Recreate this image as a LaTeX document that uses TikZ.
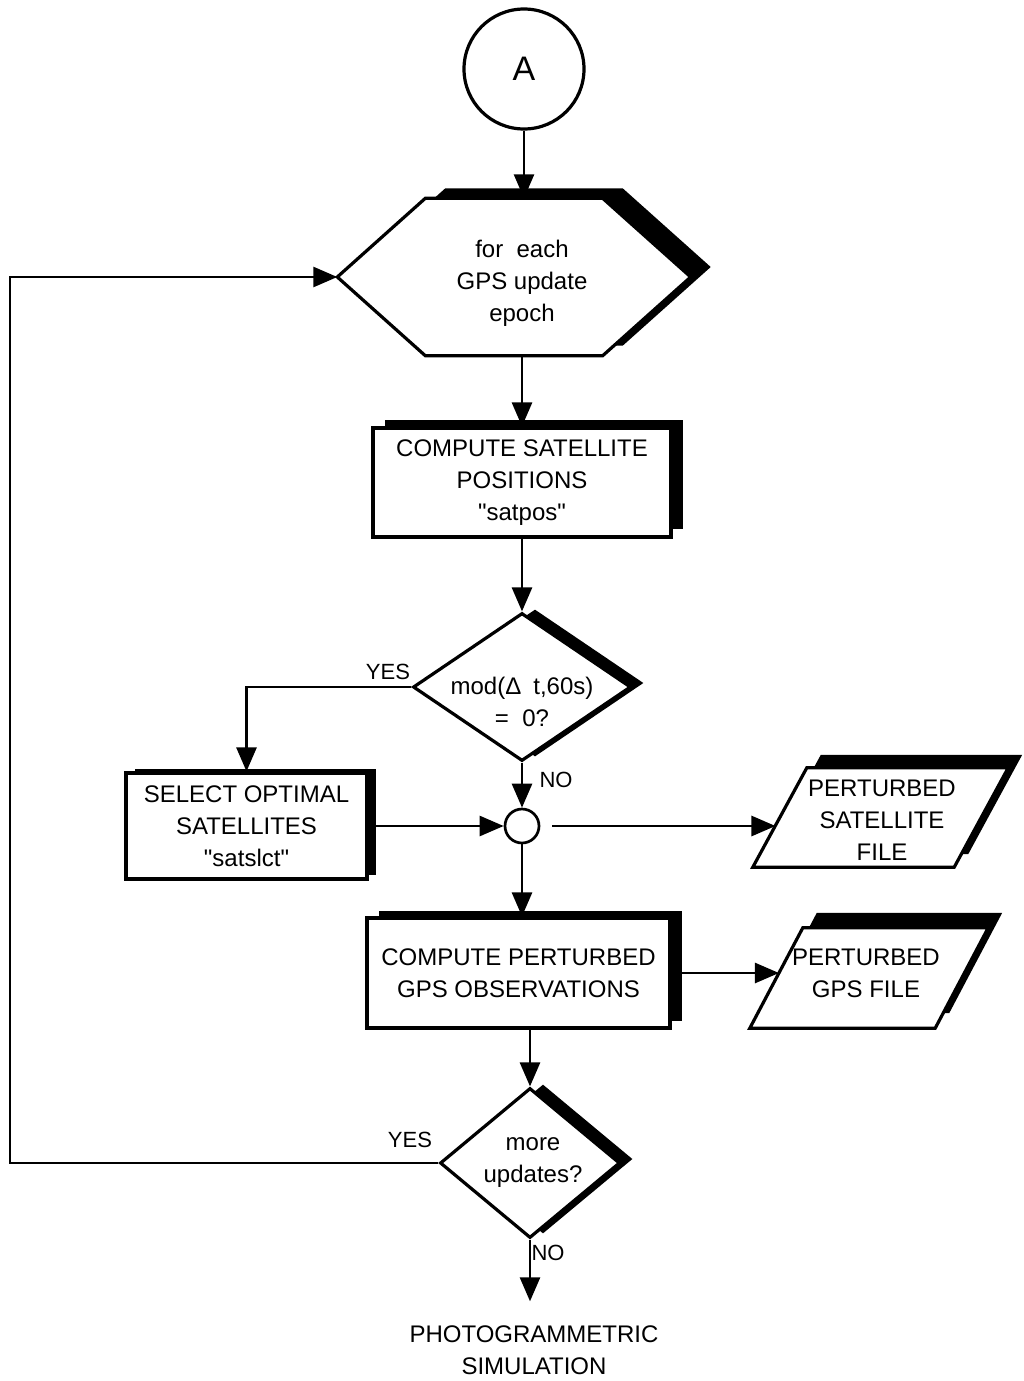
\documentclass[tikz,border=0pt]{standalone}
\usepackage{fontspec}
\setmainfont{Liberation Sans}
\usetikzlibrary{shapes.geometric,shadows,arrows.meta,calc}
\begin{document}
\begin{tikzpicture}[x=1pt,y=-1pt,
  lw/.style={line width=3.2pt},
  ln/.style={line width=2.7pt},
  arr/.style={line width=2.7pt,-{Triangle[length=24pt,width=20pt]}},
  txt/.style={align=center,font=\fontsize{24}{32}\selectfont,inner sep=0pt},
  lab/.style={font=\fontsize{22}{24}\selectfont,inner sep=0pt},
  procbox/.style={draw,lw,fill=white,rectangle,inner sep=0pt,align=center,font=\fontsize{24}{32}\selectfont},
  shade/.style 2 args={general shadow={fill=black,shadow xshift=#1,shadow yshift=#2}},
  frame/.style={inner sep=0pt,rectangle},
  dec/.style={diamond,draw,lw,fill=white,inner sep=0pt}
]
\fill[white] (0,0) rectangle (1024,1381);
\useasboundingbox (0,0) rectangle (1024,1381);

% start connector
\node[draw,circle,lw,minimum size=120pt,inner sep=0pt,font=\fontsize{34}{34}\selectfont] (A) at (524,69) {A};

% hexagon (loop)
\node[frame,minimum width=353pt,minimum height=157pt] (hex) at (514,277) {};
\fill[transform canvas={xshift=20pt,yshift=10pt}] (hex.west) -- ([xshift=88pt]hex.north west) -- ([xshift=-88pt]hex.north east) -- (hex.east) -- ([xshift=-88pt]hex.south east) -- ([xshift=88pt]hex.south west) -- cycle;
\draw[lw,fill=white,line join=miter] (hex.west) -- ([xshift=88pt]hex.north west) -- ([xshift=-88pt]hex.north east) -- (hex.east) -- ([xshift=-88pt]hex.south east) -- ([xshift=88pt]hex.south west) -- cycle;
\node[txt] (hext) at (522,283) {for\ \ each\\GPS update\\epoch};

% compute satellite positions
\node[procbox,shade={12pt}{8pt},minimum width=298pt,minimum height=109pt] (b1) at (522,482.5) {COMPUTE SATELLITE\\POSITIONS\\\textquotedbl satpos\textquotedbl};

% decision 1
\node[dec,shade={13pt}{4pt},minimum width=218pt,minimum height=148pt] (d1) at (522,687) {};
\node[txt] (d1t) at (522,702) {mod(Δ\enspace t,60s)\\=\ \ 0?};

% select optimal satellites
\node[procbox,shade={9pt}{4pt},minimum width=241pt,minimum height=106pt] (sel) at (246.5,826) {SELECT OPTIMAL\\SATELLITES\\\textquotedbl satslct\textquotedbl};

% junction
\node[draw,circle,ln,minimum size=34pt,inner sep=0pt] (jc) at (522,826) {};

% perturbed satellite file
\node[frame,minimum width=255pt,minimum height=99pt] (p1) at (880.5,817.5) {};
\fill[transform canvas={xshift=14pt,yshift=13pt}] (p1.south west) -- ([xshift=54pt]p1.north west) -- (p1.north east) -- ([xshift=-54pt]p1.south east) -- cycle;
\draw[lw,fill=white,line join=miter] (p1.south west) -- ([xshift=54pt]p1.north west) -- (p1.north east) -- ([xshift=-54pt]p1.south east) -- cycle;
\coordinate (p1in) at ($(p1.south west)!0.42!([xshift=54pt]p1.north west)$);
\node[txt] (p1t) at (882,820) {PERTURBED\\SATELLITE\\FILE};

% compute perturbed gps observations
\node[procbox,shade={12pt}{7pt},minimum width=303pt,minimum height=110pt] (b2) at (518.5,973) {COMPUTE PERTURBED\\GPS OBSERVATIONS};

% perturbed gps file
\node[frame,minimum width=238pt,minimum height=100pt] (p2) at (869,978) {};
\fill[transform canvas={xshift=14pt,yshift=15pt}] (p2.south west) -- ([xshift=53pt]p2.north west) -- (p2.north east) -- ([xshift=-53pt]p2.south east) -- cycle;
\draw[lw,fill=white,line join=miter] (p2.south west) -- ([xshift=53pt]p2.north west) -- (p2.north east) -- ([xshift=-53pt]p2.south east) -- cycle;
\coordinate (p2in) at ($(p2.south west)!0.55!([xshift=53pt]p2.north west)$);
\node[txt] (p2t) at (866,973) {PERTURBED\\GPS FILE};

% decision 2
\node[dec,shade={13pt}{4pt},minimum width=180pt,minimum height=150pt] (d2) at (530,1163) {};
\node[txt] (d2t) at (533,1163) {more\\updates?};

% output
\node[txt,inner sep=4pt] (out) at (534,1350) {PHOTOGRAMMETRIC\\SIMULATION};

\coordinate (lp) at (10,1163);

% connectors
\draw[arr] (A.south) -- (A.south |- hex.north);
\draw[arr] (hex.south -| b1.north) -- (b1.north);
\draw[arr] (b1.south) -- (d1.north);
\draw[arr] (d1.west) -| (sel.north);
\draw[arr] (d1.south) -- (jc.north);
\draw[arr] (sel.east) -- (jc.west);
\draw[arr,shorten <=12pt] (jc.east) -- (jc.east -| p1in);
\draw[arr] (jc.south) -- (jc.south |- b2.north);
\draw[arr] (b2.east) -- (b2.east -| p2in);
\draw[arr] (b2.south -| d2.north) -- (d2.north);
\draw[arr] (d2.west) -- (lp) |- (hex.west);
\draw[arr,shorten >=20pt] (d2.south) -- (d2.south |- out.north);

% labels
\node[lab] (yes1) at (388,672) {YES};
\node[lab] (no1) at (556,780) {NO};
\node[lab] (yes2) at (410,1140) {YES};
\node[lab] (no2) at (548,1253) {NO};
\end{tikzpicture}
\end{document}
